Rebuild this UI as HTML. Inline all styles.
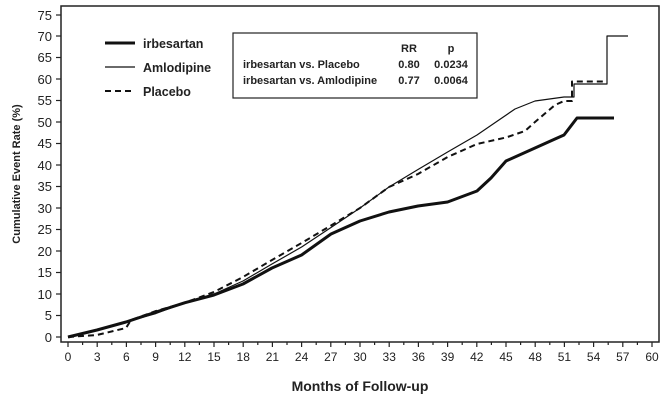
<!DOCTYPE html>
<html><head><style>body{margin:0;background:#fff}svg{display:block}text{font-family:"Liberation Sans",Arial,sans-serif;fill:#222}</style></head><body>
<svg width="669" height="403" viewBox="0 0 669 403" xmlns="http://www.w3.org/2000/svg">
<rect x="61" y="6" width="598" height="336" fill="none" stroke="#222" stroke-width="1.5"/>
<g stroke="#222" stroke-width="1.2">
<!-- y ticks -->
<line x1="56" y1="337" x2="61" y2="337"/><line x1="56" y1="315.5" x2="61" y2="315.5"/><line x1="56" y1="294" x2="61" y2="294"/><line x1="56" y1="272.5" x2="61" y2="272.5"/><line x1="56" y1="251" x2="61" y2="251"/><line x1="56" y1="229.5" x2="61" y2="229.5"/><line x1="56" y1="208" x2="61" y2="208"/><line x1="56" y1="186.5" x2="61" y2="186.5"/><line x1="56" y1="165" x2="61" y2="165"/><line x1="56" y1="143.5" x2="61" y2="143.5"/><line x1="56" y1="122" x2="61" y2="122"/><line x1="56" y1="100.5" x2="61" y2="100.5"/><line x1="56" y1="79" x2="61" y2="79"/><line x1="56" y1="57.5" x2="61" y2="57.5"/><line x1="56" y1="36" x2="61" y2="36"/><line x1="56" y1="15" x2="61" y2="15"/>
</g>
<g font-size="13" text-anchor="end">
<text x="52" y="342">0</text><text x="52" y="320">5</text><text x="52" y="299">10</text><text x="52" y="277">15</text><text x="52" y="256">20</text><text x="52" y="234">25</text><text x="52" y="213">30</text><text x="52" y="191">35</text><text x="52" y="170">40</text><text x="52" y="148">45</text><text x="52" y="127">50</text><text x="52" y="105">55</text><text x="52" y="84">60</text><text x="52" y="62">65</text><text x="52" y="41">70</text><text x="52" y="20">75</text>
</g>
<g id="xt" stroke="#222" stroke-width="1.2"></g>
<g font-size="12" text-anchor="middle">
<text x="68" y="361">0</text><text x="97.2" y="361">3</text><text x="126.4" y="361">6</text><text x="155.6" y="361">9</text><text x="184.8" y="361">12</text><text x="214" y="361">15</text><text x="243.2" y="361">18</text><text x="272.4" y="361">21</text><text x="301.6" y="361">24</text><text x="330.8" y="361">27</text><text x="360" y="361">30</text><text x="389.2" y="361">33</text><text x="418.4" y="361">36</text><text x="447.6" y="361">39</text><text x="476.8" y="361">42</text><text x="506" y="361">45</text><text x="535.2" y="361">48</text><text x="564.4" y="361">51</text><text x="593.6" y="361">54</text><text x="622.8" y="361">57</text><text x="652" y="361">60</text>
</g>
<g stroke="#222" stroke-width="1.2">
<path d="M68 342v5M97.2 342v5M126.4 342v5M155.6 342v5M184.8 342v5M214 342v5M243.2 342v5M272.4 342v5M301.6 342v5M330.8 342v5M360 342v5M389.2 342v5M418.4 342v5M447.6 342v5M476.8 342v5M506 342v5M535.2 342v5M564.4 342v5M593.6 342v5M622.8 342v5M652 342v5"/>
<path d="M82.6 342v3M111.8 342v3M141 342v3M170.2 342v3M199.4 342v3M228.6 342v3M257.8 342v3M287 342v3M316.2 342v3M345.4 342v3M374.6 342v3M403.8 342v3M433 342v3M462.2 342v3M491.4 342v3M520.6 342v3M549.8 342v3M579 342v3M608.2 342v3M637.4 342v3"/>
</g>
<text x="360" y="391" font-size="14" font-weight="bold" text-anchor="middle">Months of Follow-up</text>
<text transform="translate(20,174) rotate(-90)" font-size="11" font-weight="bold" text-anchor="middle">Cumulative Event Rate (%)</text>
<!-- series -->
<g fill="none" stroke="#111" stroke-linejoin="round">
<polyline stroke-width="1.2" points="68,337 97,330.5 126,322 156,313.5 185,302.7 214,294 243,281 272,264 301.6,247 331,227.5 360,208 389,187 418,169.5 447.6,152 477,135 496,122 515,109 535,101 564,97 574,97 574,84 607,84 607,36 628,36"/>
<polyline stroke-width="2" stroke-dasharray="6,4" points="68,337 97,335 126,328 131,320 156,311 185,302.7 214,292 243,277 272,260 301.6,243 331,225.5 360,208 389,187 418,174 447.6,157 477,144 506,137.5 525,131 535,122 555,105 564,101 572,101 572,81.5 605,81.5"/>
<polyline stroke-width="3" points="68,337 97,330 126,322 156,312 185,302.7 214,295 243,284 272,268 301.6,255 331,234 360,221 389,212 418,206 447.6,202 477,191 491,178 506,161 535,148 555,139 564,135 577,118 614,118"/>
</g>
<!-- legend -->
<g stroke="#111">
<line x1="105" y1="43" x2="135" y2="43" stroke-width="3"/>
<line x1="105" y1="67" x2="135" y2="67" stroke-width="1.3"/>
<line x1="105" y1="91" x2="135" y2="91" stroke-width="2" stroke-dasharray="6,4"/>
</g>
<g font-size="12.5" font-weight="bold">
<text x="143" y="48">irbesartan</text><text x="143" y="72">Amlodipine</text><text x="143" y="96">Placebo</text>
</g>
<rect x="233" y="33" width="244" height="65" fill="#fff" stroke="#222" stroke-width="1.2"/>
<g font-size="11" font-weight="bold">
<text x="243" y="68">irbesartan vs. Placebo</text><text x="243" y="84">irbesartan vs. Amlodipine</text>
<text x="409" y="52" text-anchor="middle">RR</text><text x="451" y="52" text-anchor="middle">p</text>
<text x="409" y="68" text-anchor="middle">0.80</text><text x="451" y="68" text-anchor="middle">0.0234</text>
<text x="409" y="84" text-anchor="middle">0.77</text><text x="451" y="84" text-anchor="middle">0.0064</text>
</g>
</svg>
</body></html>
